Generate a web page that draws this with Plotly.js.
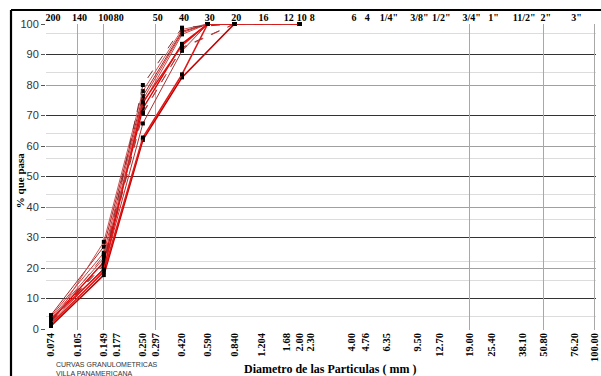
<!DOCTYPE html>
<html>
<head>
<meta charset="utf-8">
<script src="https://cdn.plot.ly/plotly-3.0.1.min.js"></script>
<style>
html,body{margin:0;padding:0;background:#fff;overflow:hidden;}
#chart{width:601px;height:376px;}
</style>
</head>
<body>
<div id="chart"></div>
<script>
// Sieve openings (mm) where samples were measured
const sizes = [0.074, 0.149, 0.250, 0.420, 0.590, 0.840, 2.00];

// % passing for each sample curve (null = not measured)
const curve1  = [1.0, 17.7, 62.0, 82.5, null, 100, 100];
const curve2  = [1.6, 18.8, 62.8, 83.5, 100, 100, 100];
const curve3  = [2.0, 20.0, 67.4, 91.2, 100, 100, 100];
const curve4  = [2.6, 21.0, 70.7, 92.3, null, 100, 100];
const curve5  = [3.0, 22.0, 72.3, 93.5, 100, 100, 100];
const curve6  = [3.6, 23.2, 73.7, 96.6, 100, 100, 100];
const curve7  = [4.1, 25.0, 75.2, 97.2, 100, 100, 100];
const curve8  = [4.6, 27.0, 76.4, 97.6, 100, 100, 100];
const curve9  = [1.3, 28.6, 78.0, 98.2, 100, 100, 100];
const curve10 = [2.3, 21.6, 80.0, 98.8, null, 100, 100];
const curve11 = [3.3, 19.5, 74.3, 93.0, 100, 100, 100];
const curve12 = [1.8, 24.2, 71.0, 92.0, null, 100, 100];
const curves = [curve1, curve2, curve3, curve4, curve5, curve6, curve7, curve8, curve9, curve10, curve11, curve12];

// Bottom axis tick labels (mm)
const bottomTickVals = [0.074, 0.105, 0.149, 0.177, 0.250, 0.297, 0.420, 0.590, 0.840, 1.204, 1.68, 2.00, 2.30, 4.00, 4.76, 6.35, 9.50, 12.70, 19.00, 25.40, 38.10, 50.80, 76.20, 100.00];
const bottomTickText = ['0.074','0.105','0.149','0.177','0.250','0.297','0.420','0.590','0.840','1.204','1.68','2.00','2.30','4.00','4.76','6.35','9.50','12.70','19.00','25.40','38.10','50.80','76.20','100.00'];

// Top axis: sieve designations
const topTickVals = [0.074, 0.105, 0.149, 0.177, 0.297, 0.420, 0.590, 0.840, 1.204, 1.68, 2.00, 2.30, 4.00, 4.76, 6.35, 9.50, 12.70, 19.00, 25.40, 38.10, 50.80, 76.20];
const topTickText = ['200','140','100','80','50','40','30','20','16','12','10','8','6','4','1/4"','3/8"','1/2"','3/4"','1"','11/2"','2"','3"'];

// Grid positions
const gridX = [0.105, 0.149, 0.297, 19.00, 50.80, 100.00];
const gridYLight = [4, 16, 22, 36, 44, 56, 64, 84, 97];
const gridYMedium = [0, 20, 40, 60, 80, 100];
const gridYDark = [10, 30, 50, 70, 90];
const yTickVals = [0, 10, 20, 30, 40, 50, 60, 70, 80, 90, 100];

const colors = ['#c00000','#e01818','#b03030','#8a2a2a','#e00000','#c44848','#e03030','#a02828','#d05050','#7a3030','#e01010','#b84040'];
const dashes = ['solid','solid','solid','dash','solid','solid','solid','solid','solid','dash','solid','dash'];
const widths = [1.6,1.6,1,1,1.4,1,1,1,1,1,1.4,1];

const bold = s => '<b>' + s + '</b>';

const traces = [];
const nulls = sizes.map(() => null);
traces.push({x: sizes, y: nulls, xaxis: 'x', yaxis: 'y2', mode: 'lines', showlegend: false, hoverinfo: 'skip'});
traces.push({x: sizes, y: nulls, xaxis: 'x', yaxis: 'y3', mode: 'lines', showlegend: false, hoverinfo: 'skip'});
traces.push({x: sizes, y: nulls, xaxis: 'x', yaxis: 'y4', mode: 'lines', showlegend: false, hoverinfo: 'skip'});
traces.push({x: sizes, y: nulls, xaxis: 'x2', yaxis: 'y', mode: 'lines', showlegend: false, hoverinfo: 'skip'});
traces.push({x: sizes, y: nulls, xaxis: 'x3', yaxis: 'y', mode: 'lines', showlegend: false, hoverinfo: 'skip'});

curves.forEach((c, i) => {
  traces.push({
    x: sizes, y: c, type: 'scatter', mode: 'lines+markers', connectgaps: true,
    line: {color: colors[i], width: widths[i], dash: dashes[i]},
    marker: {color: '#000', size: 4, symbol: 'square'},
    cliponaxis: false, showlegend: false
  });
});

const xr = [Math.log10(0.074) - 0.0288, 2.0058];
const yr = [-0.3, 100];
const serif = 'Liberation Serif, Times New Roman, serif';

// frame (outer black border, top + left), in paper units of the plot area (x: 46..596 px, y: 24..330 px)
const fx = (11 - 46) / 550;
const fyTop = (330 - 10) / 306;
const fyBot = (330 - 380) / 306;
const fxRight = (605 - 46) / 550;

const layout = {
  width: 601, height: 376,
  margin: {l: 46, r: 5, t: 24, b: 46},
  paper_bgcolor: '#fff', plot_bgcolor: 'rgba(0,0,0,0)',
  showlegend: false,
  xaxis: {
    type: 'log', range: xr, tickmode: 'array', tickvals: bottomTickVals, ticktext: bottomTickText.map(bold),
    tickangle: -90, showgrid: false, zeroline: false, showline: false, ticks: '',
    tickfont: {family: serif, size: 10.5, color: '#000'}
  },
  xaxis2: {
    type: 'log', range: xr, overlaying: 'x', side: 'top', anchor: 'y', tickmode: 'array',
    tickvals: topTickVals, ticktext: topTickText.map(bold), tickangle: 0,
    showgrid: false, zeroline: false, showline: false, ticks: '',
    ticklabelshift: 2,
    tickfont: {family: serif, size: 10, color: '#000'}
  },
  xaxis3: {
    type: 'log', range: xr, overlaying: 'x', anchor: 'y', tickmode: 'array', tickvals: gridX,
    showticklabels: false, showgrid: true, gridcolor: '#a8a8a8', gridwidth: 1, zeroline: false, ticks: ''
  },
  yaxis: {
    range: yr, tickmode: 'array', tickvals: yTickVals, showgrid: false, zeroline: false, showline: false,
    ticks: 'outside', ticklen: 4, tickcolor: '#555', tickwidth: 1,
    tickfont: {family: 'Liberation Sans, Arial, sans-serif', size: 11, color: '#333'}
  },
  yaxis2: {range: yr, overlaying: 'y', tickmode: 'array', tickvals: gridYLight, showticklabels: false,
    showgrid: true, gridcolor: '#dcdcdc', gridwidth: 1, zeroline: false, ticks: ''},
  yaxis3: {range: yr, overlaying: 'y', tickmode: 'array', tickvals: gridYMedium, showticklabels: false,
    showgrid: true, gridcolor: '#a0a0a0', gridwidth: 1, zeroline: false, ticks: ''},
  yaxis4: {range: yr, overlaying: 'y', tickmode: 'array', tickvals: gridYDark, showticklabels: false,
    showgrid: true, gridcolor: '#333333', gridwidth: 1.5, zeroline: false, ticks: ''},
  shapes: [
    {type: 'line', xref: 'paper', yref: 'paper', x0: fx, x1: fx, y0: fyBot, y1: fyTop, line: {color: '#000', width: 2.2}},
    {type: 'line', xref: 'paper', yref: 'paper', x0: fx, x1: fxRight, y0: fyTop, y1: fyTop, line: {color: '#000', width: 2.2}}
  ],
  annotations: [
    {text: '<b>% que pasa</b>', xref: 'paper', yref: 'paper', x: -0.047, y: 0.49, textangle: -90,
     showarrow: false, xanchor: 'center', yanchor: 'middle',
     font: {family: serif, size: 11, color: '#000'}},
    {text: '<b>Diametro de las Particulas ( mm )</b>', xref: 'paper', yref: 'paper', x: 0.516, y: -0.127,
     showarrow: false, xanchor: 'center', yanchor: 'middle',
     font: {family: serif, size: 12, color: '#000'}},
    {text: 'CURVAS GRANULOMETRICAS<br>VILLA PANAMERICANA', xref: 'paper', yref: 'paper', x: 0.015, y: -0.095,
     showarrow: false, xanchor: 'left', yanchor: 'top', align: 'left',
     font: {family: 'Liberation Sans, Arial, sans-serif', size: 7, color: '#333'}}
  ]
};

Plotly.newPlot('chart', traces, layout, {displayModeBar: false, staticPlot: true});
</script>
</body>
</html>
